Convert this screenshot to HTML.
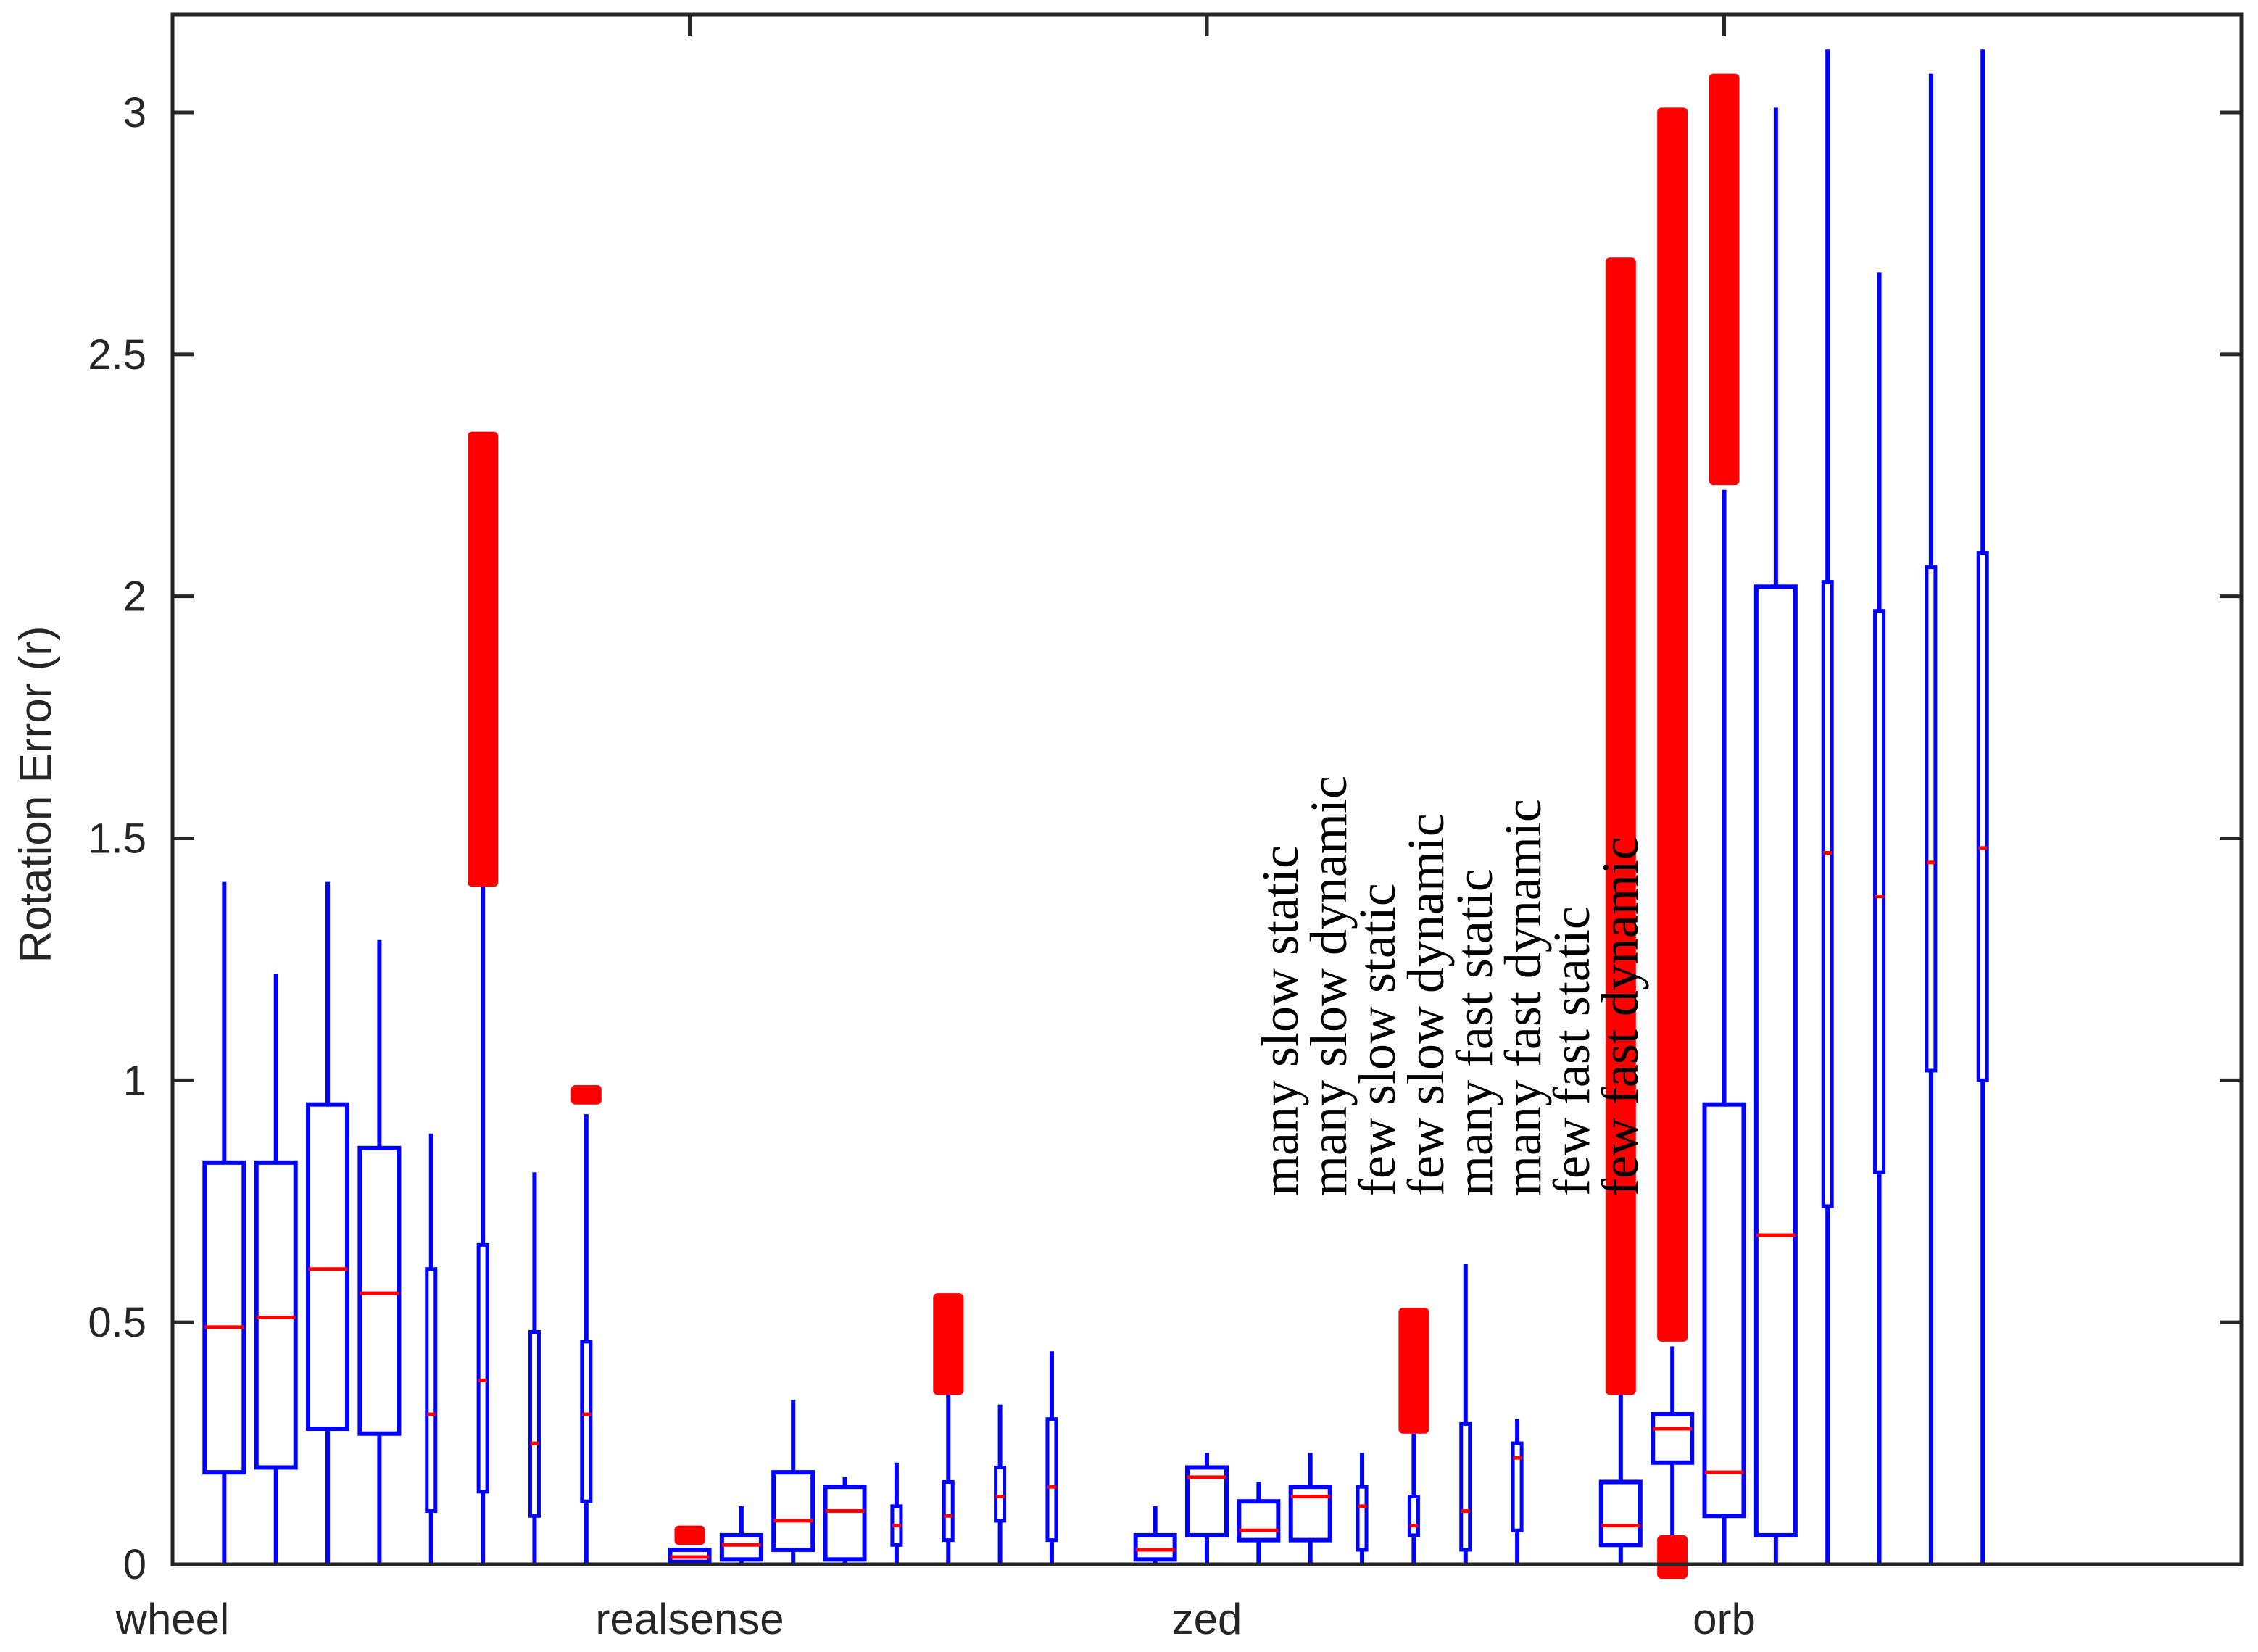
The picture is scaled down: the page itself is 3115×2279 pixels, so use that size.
<!DOCTYPE html>
<html><head><meta charset="utf-8"><style>
html,body{margin:0;padding:0;background:#fff;}
svg{display:block;}
</style></head><body>
<svg id="chart" width="3115" height="2279" viewBox="0 0 3115 2279" xmlns="http://www.w3.org/2000/svg">
<rect x="0" y="0" width="3115" height="2279" fill="#fff"/>
<g id="marks"></g>
<g id="axes"></g>
</svg>
<script>
// ---- data ----
const positions = [1,2,3,4,5,6,7,8, 10,11,12,13,14,15,16,17, 19,20,21,22,23,24,25,26, 28,29,30,31,32,33,34,35];
const whiskerLow = [0,0,0,0,0,0,0,0, 0,0,0,0,0,0,0,0, 0,0,0,0,0,0,0,0, 0,0,0,0,0,0,0,0];
const q1 = [0.19,0.20,0.28,0.27,0.11,0.15,0.10,0.13, 0.005,0.01,0.03,0.01,0.04,0.05,0.09,0.05, 0.01,0.06,0.05,0.05,0.03,0.06,0.03,0.07, 0.04,0.21,0.10,0.06,0.74,0.81,1.02,1.00];
const medians = [0.49,0.51,0.61,0.56,0.31,0.38,0.25,0.31, 0.015,0.04,0.09,0.11,0.08,0.10,0.14,0.16, 0.03,0.18,0.07,0.14,0.12,0.08,0.11,0.22, 0.08,0.28,0.19,0.68,1.47,1.38,1.45,1.48];
const q3 = [0.83,0.83,0.95,0.86,0.61,0.66,0.48,0.46, 0.03,0.06,0.19,0.16,0.12,0.17,0.20,0.30, 0.06,0.20,0.13,0.16,0.16,0.14,0.29,0.25, 0.17,0.31,0.95,2.02,2.03,1.97,2.06,2.09];
const whiskerHigh = [1.41,1.22,1.41,1.29,0.89,1.40,0.81,0.93, 0.03,0.12,0.34,0.18,0.21,0.35,0.33,0.44, 0.12,0.23,0.17,0.23,0.23,0.27,0.62,0.30, 0.35,0.45,2.22,3.01,3.13,2.67,3.08,3.13];
const boxWide = [1,1,1,1,0,0,0,0, 1,1,1,1,0,0,0,0, 1,1,1,1,0,0,0,0, 1,1,1,1,0,0,0,0];
// outlier bands: [box index, low, high]
const outlierIdx = [5, 7, 8, 13, 21, 24, 25, 25, 26];
const outlierLow = [1.40, 0.95, 0.04, 0.35, 0.27, 0.35, 0.46, -0.03, 2.23];
const outlierHigh = [2.34, 0.99, 0.08, 0.56, 0.53, 2.70, 3.01, 0.06, 3.08];
const yTicks = [0,0.5,1,1.5,2,2.5,3];
const yTickLabels = ["0","0.5","1","1.5","2","2.5","3"];
const xTicks = [0,10,20,30];
const xTickLabels = ["wheel","realsense","zed","orb"];
const conditionLabels = ["many slow static","many slow dynamic","few slow static","few slow dynamic","many fast static","many fast dynamic","few fast static","few fast dynamic"];

// ---- scales ----
const L=238, R=3092, T=20, B=2158;
const xs = p => L + (R-L)*p/40;
const ys = v => B - (B-155)*v/3;
const NS="http://www.w3.org/2000/svg";
const marks=document.getElementById('marks');
const axes=document.getElementById('axes');
function mk(tag,attrs,parent){const e=document.createElementNS(NS,tag);for(const k in attrs)e.setAttribute(k,attrs[k]);parent.appendChild(e);return e;}
const BLUE="#0000ff", RED="#ff0000";

positions.forEach((p,i)=>{
  const cx=xs(p), hw = boxWide[i]? 27 : 6;
  const sw = boxWide[i]? 6 : 5;
  const g=mk('g',{},marks);
  
  
  const w1=mk('line',{x1:cx,x2:cx,y1:ys(whiskerLow[i]),y2:ys(q1[i]),stroke:BLUE,'stroke-width':6},g);
  
  
  const w2=mk('line',{x1:cx,x2:cx,y1:ys(q3[i]),y2:ys(whiskerHigh[i]),stroke:BLUE,'stroke-width':6},g);
  
  
  const b=mk('rect',{x:cx-hw,y:ys(q3[i]),width:2*hw,height:Math.max(1,ys(q1[i])-ys(q3[i])),fill:'none',stroke:BLUE,'stroke-width':sw},g);
  
  
  const m=mk('line',{x1:cx-hw,x2:cx+hw,y1:ys(medians[i]),y2:ys(medians[i]),stroke:RED,'stroke-width':5},g);
  
  
});
outlierIdx.forEach((bi,k)=>{
  const cx=xs(positions[bi]);
  const y1=ys(outlierHigh[k]), y2=ys(outlierLow[k]);
  const o=mk('rect',{x:cx-21,y:y1,width:42,height:Math.max(8,y2-y1),rx:6,fill:RED},marks);
  
  
});

// axes frame
const fr=mk('rect',{x:L,y:T,width:R-L,height:B-T,fill:'none',stroke:'#262626','stroke-width':5},axes);


yTicks.forEach((v,i)=>{
  const y=ys(v);
  const t1=mk('line',{x1:L,x2:L+30,y1:y,y2:y,stroke:'#262626','stroke-width':5},axes);
  
  
  const t2=mk('line',{x1:R-30,x2:R,y1:y,y2:y,stroke:'#262626','stroke-width':5},axes);
  
  
  const tx=mk('text',{x:202,y:y+20,'text-anchor':'end','font-family':'Liberation Sans, sans-serif','font-size':58,fill:'#262626'},axes);
  tx.textContent=yTickLabels[i];
  
  
});
xTicks.forEach((p,i)=>{
  const x=xs(p);
  if(p>0){
    const t=mk('line',{x1:x,x2:x,y1:T,y2:T+30,stroke:'#262626','stroke-width':5},axes);
    
    
  }
  const tx=mk('text',{x:x,y:2254,'text-anchor':'middle','font-family':'Liberation Sans, sans-serif','font-size':60,fill:'#262626'},axes);
  tx.textContent=xTickLabels[i];
  
  
});
const yt=mk('text',{x:0,y:0,transform:'translate(70,1096) rotate(-90)','text-anchor':'middle','font-family':'Liberation Sans, sans-serif','font-size':62,fill:'#262626'},axes);
yt.textContent='Rotation Error (r)';


conditionLabels.forEach((s,i)=>{
  const x=1790+67*i;
  const t=mk('text',{x:0,y:0,transform:'translate('+x+',1650) rotate(-90)','font-family':'Liberation Serif, serif','font-size':72,fill:'#000'},axes);
  t.textContent=s;
  
  
});
</script>
</body></html>
